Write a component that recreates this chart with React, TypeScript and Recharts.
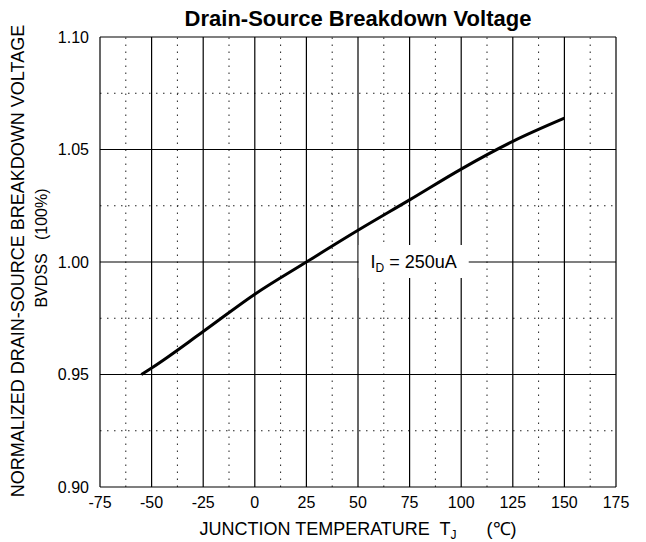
import React from "react";
import { LineChart, Line, XAxis, YAxis, ReferenceLine, ReferenceDot, Label } from "recharts";

const temps = [-55, -50, -25, 0, 25, 50, 75, 100, 125, 150];
const bvdss = [0.95, 0.9529, 0.9691, 0.9857, 1.0, 1.0141, 1.0276, 1.0413, 1.0536, 1.0639];
const xTicks = [-75, -50, -25, 0, 25, 50, 75, 100, 125, 150, 175];
const yTicks = [0.9, 0.95, 1.0, 1.05, 1.1];
const xMinor = [-62.5, -37.5, -12.5, 12.5, 37.5, 62.5, 87.5, 112.5, 137.5, 162.5];
const yMinor = [0.925, 0.975, 1.025, 1.075];
const noteX = 77;
const noteY = 1.0;

const data = temps.map((t, i) => ({ t, v: bvdss[i] }));

const FONT = "'Liberation Sans', Arial, sans-serif";

const NoteShape = (props: any) => {
  const { cx, cy } = props;
  return (
    <g>
      <rect x={cx - 55} y={cy - 17} width={110} height={33} fill="#fff" />
      <text x={cx} y={cy + 6} textAnchor="middle" fontFamily={FONT} fontSize={18} fill="#000" style={{ whiteSpace: "pre" }}>
        <tspan>I</tspan>
        <tspan fontSize={12} dy={4}>D</tspan>
        <tspan dy={-4}>{" = 250uA"}</tspan>
      </text>
    </g>
  );
};

const YLabel = () => (
  <g>
    <text x={350} y={26} textAnchor="middle" fontFamily={FONT} fontSize={22} fontWeight="bold" fill="#000">
      Drain-Source Breakdown Voltage
    </text>
    <text
      transform="translate(15.5,261) rotate(-90)"
      textAnchor="middle"
      fontFamily={FONT}
      fontSize={18}
      fill="#000"
    >
      NORMALIZED DRAIN-SOURCE BREAKDOWN VOLTAGE
    </text>
    <text
      transform="translate(38.5,248) rotate(-90)"
      textAnchor="middle"
      fontFamily={FONT}
      fontSize={16}
      fill="#000"
      style={{ whiteSpace: "pre" }}
    >
      {"BVDSS   (100%)"}
    </text>
  </g>
);

const XLabel = () => (
  <text x={350} y={535} textAnchor="middle" fontFamily={FONT} fontSize={18} fill="#000" style={{ whiteSpace: "pre" }}>
    <tspan>{"JUNCTION TEMPERATURE  T"}</tspan>
    <tspan fontSize={12} dy={4}>J</tspan>
    <tspan dy={-4}>{"      (\u2103)"}</tspan>
  </text>
);

export default function App() {
  return (
    <div style={{ width: 638, height: 542, marginTop: -8 }}>
      <LineChart width={638} height={542} data={data} margin={{ top: 37, right: 30, bottom: 0, left: 0 }}>
        <XAxis
          dataKey="t"
          type="number"
          domain={[-75, 175]}
          ticks={xTicks}
          interval={0}
          axisLine={false}
          tickLine={false}
          height={55}
          tick={{ fontFamily: FONT, fontSize: 16, fill: "#000" }}
          tickMargin={4}
        >
          <Label content={XLabel} />
        </XAxis>
        <YAxis
          type="number"
          domain={[0.9, 1.1]}
          ticks={yTicks}
          interval={0}
          axisLine={false}
          tickLine={false}
          width={92}
          tickFormatter={(v: number) => v.toFixed(2)}
          tick={{ fontFamily: FONT, fontSize: 16, fill: "#000" }}
          tickMargin={5}
        >
          <Label content={YLabel} />
        </YAxis>
        {xMinor.map((x) => (
          <ReferenceLine key={"xm" + x} x={x} stroke="#222" strokeDasharray="1.5 5.5" />
        ))}
        {yMinor.map((y) => (
          <ReferenceLine key={"ym" + y} y={y} stroke="#222" strokeDasharray="1.5 5.5" />
        ))}
        {xTicks.map((x) => (
          <ReferenceLine key={"xt" + x} x={x} stroke="#000" strokeWidth={1.2} />
        ))}
        {yTicks.map((y) => (
          <ReferenceLine key={"yt" + y} y={y} stroke="#000" strokeWidth={1.2} />
        ))}
        <ReferenceDot x={noteX} y={noteY} r={0} shape={NoteShape} />
        <Line
          dataKey="v"
          type="monotone"
          stroke="#000"
          strokeWidth={3}
          dot={false}
          isAnimationActive={false}
        />
      </LineChart>
    </div>
  );
}
